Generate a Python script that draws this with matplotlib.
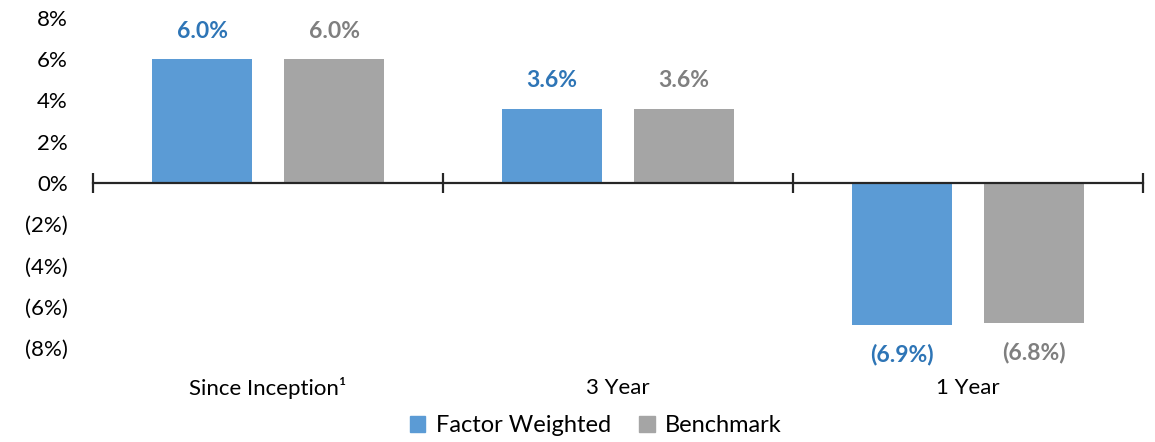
import matplotlib
matplotlib.use("Agg")
import matplotlib.pyplot as plt
import numpy as np
from matplotlib.patches import Patch
import matplotlib.transforms as mtransforms

categories = ["Since Inception\u00b9", "3 Year", "1 Year"]
factor_weighted = [6.0, 3.6, -6.9]
benchmark = [6.0, 3.6, -6.8]
series_names = ["Factor Weighted", "Benchmark"]
y_ticks = [-8, -6, -4, -2, 0, 2, 4, 6, 8]

blue = "#5B9BD5"
gray = "#A5A5A5"
blue_txt = "#2E75B6"
gray_txt = "#7F7F7F"

plt.rcParams['font.family'] = ['Lato', 'DejaVu Sans']

W, H = 1155, 442
fig = plt.figure(figsize=(W / 100, H / 100), dpi=100)
ax = fig.add_axes([93 / W, 1 - 348 / H, (1143 - 93) / W, (348 - 18) / H])

x = np.arange(len(categories))
bw = 100 / 350
off = 66 / 350
ax.bar(x - off, factor_weighted, bw, color=blue, zorder=2)
ax.bar(x + off, benchmark, bw, color=gray, zorder=2)

def fmt(v):
    return f"{v:.1f}%" if v >= 0 else f"({abs(v):.1f}%)"

for xs, vals, col in [(x - off, factor_weighted, blue_txt), (x + off, benchmark, gray_txt)]:
    for xi, v in zip(xs, vals):
        ax.annotate(fmt(v), (xi, v), xytext=(0, 28 if v >= 0 else -29),
                    textcoords="offset pixels", ha="center", va="center",
                    fontsize=16.5, fontweight="bold", color=col)

ax.set_xlim(-0.5, len(categories) - 0.5)
ax.set_ylim(min(y_ticks), max(y_ticks))
ax.set_yticks(y_ticks)
ax.set_yticklabels([f"{t}%" if t >= 0 else f"({abs(t)}%)" for t in y_ticks], fontsize=16)
ax.tick_params(axis='y', length=0, pad=18)
for lab in ax.get_yticklabels():
    lab.set_horizontalalignment('right')

for s in ['top', 'right', 'left']:
    ax.spines[s].set_visible(False)
ax.spines['bottom'].set_position(('data', 0))
ax.spines['bottom'].set_linewidth(1.6)
ax.spines['bottom'].set_color('#262626')
ax.spines['bottom'].set_zorder(3)
ax.set_xticks(np.arange(-0.5, len(categories), 1.0))
ax.set_xticklabels([])
ax.tick_params(axis='x', direction='inout', length=14, width=1.6, color='#262626')

trans = mtransforms.blended_transform_factory(ax.transData, fig.transFigure)
for xi, c in zip(x, categories):
    ax.text(xi, 1 - 388 / H, c, transform=trans, ha="center", va="center", fontsize=16)

handles = [Patch(color=blue), Patch(color=gray)]
fig.legend(handles, series_names, loc="center", bbox_to_anchor=(596 / W, 1 - 426 / H),
           ncol=2, frameon=False, fontsize=17, handlelength=0.65, handleheight=0.65,
           handletextpad=0.45, columnspacing=1.2)

fig.savefig("out.png", dpi=100)
